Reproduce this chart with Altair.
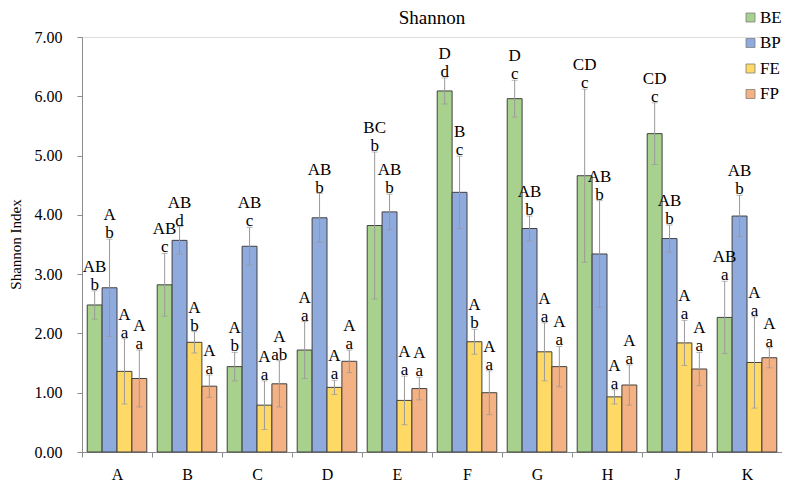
import altair as alt
import pandas as pd

title_text = "Shannon"
y_title = "Shannon Index"
categories = ["A", "B", "C", "D", "E", "F", "G", "H", "J", "K"]
series = ["BE", "BP", "FE", "FP"]

be_mean = [2.48, 2.82, 1.44, 1.72, 3.82, 6.09, 5.96, 4.66, 5.37, 2.27]
bp_mean = [2.77, 3.57, 3.47, 3.95, 4.05, 4.38, 3.77, 3.34, 3.60, 3.98]
fe_mean = [1.36, 1.85, 0.79, 1.09, 0.87, 1.86, 1.69, 0.93, 1.84, 1.51]
fp_mean = [1.24, 1.11, 1.15, 1.53, 1.07, 1.00, 1.44, 1.13, 1.40, 1.59]

be_err = [0.24, 0.53, 0.24, 0.48, 1.24, 0.22, 0.31, 1.46, 0.52, 0.61]
bp_err = [0.82, 0.23, 0.32, 0.41, 0.30, 0.61, 0.21, 0.90, 0.23, 0.35]
fe_err = [0.55, 0.18, 0.41, 0.12, 0.41, 0.21, 0.49, 0.12, 0.38, 0.77]
fp_err = [0.48, 0.19, 0.39, 0.19, 0.19, 0.37, 0.34, 0.34, 0.28, 0.17]

be_upper = ["AB", "AB", "A", "A", "BC", "D", "D", "CD", "CD", "AB"]
bp_upper = ["A", "AB", "AB", "AB", "AB", "B", "AB", "AB", "AB", "AB"]
fe_upper = ["A", "A", "A", "A", "A", "A", "A", "A", "A", "A"]
fp_upper = ["A", "A", "A", "A", "A", "A", "A", "A", "A", "A"]

be_lower = ["b", "c", "b", "a", "b", "d", "c", "c", "c", "a"]
bp_lower = ["b", "d", "c", "b", "b", "c", "b", "b", "b", "b"]
fe_lower = ["a", "b", "a", "a", "a", "b", "a", "a", "a", "a"]
fp_lower = ["a", "a", "ab", "a", "a", "a", "a", "a", "a", "a"]

colors = ["#a9d18e", "#8faadc", "#ffd966", "#f4b183"]

rows = []
groups = [
    ("BE", be_mean, be_err, be_upper, be_lower),
    ("BP", bp_mean, bp_err, bp_upper, bp_lower),
    ("FE", fe_mean, fe_err, fe_upper, fe_lower),
    ("FP", fp_mean, fp_err, fp_upper, fp_lower),
]
for s, means, errs, ups, lows in groups:
    for c, m, e, u, l in zip(categories, means, errs, ups, lows):
        rows.append(dict(cat=c, series=s, mean=m, lo=m - e, hi=m + e, up=u, low=l))
df = pd.DataFrame(rows)

FONT = "Liberation Serif"
AXIS_GRAY = "#8c8c8c"

x = alt.X(
    "cat:N",
    sort=categories,
    scale=alt.Scale(paddingInner=0, paddingOuter=0),
    axis=alt.Axis(
        title=None, labelAngle=0, tickBand="extent", grid=False,
        domainColor=AXIS_GRAY, tickColor=AXIS_GRAY, tickSize=5,
        labelFont=FONT, labelFontSize=16, labelColor="black", labelPadding=9,
    ),
)
xo = alt.XOffset("series:N", sort=series, scale=alt.Scale(paddingInner=0, paddingOuter=0.35))

yscale = alt.Scale(domain=[0, 7])

base = alt.Chart(df).encode(x=x, xOffset=xo)

bars = base.mark_bar(stroke="#404040", strokeWidth=1).encode(
    y=alt.Y(
        "mean:Q",
        scale=yscale,
        axis=alt.Axis(
            values=[0, 1, 2, 3, 4, 5, 6, 7], format=".2f", grid=False,
            title=y_title, titleFont=FONT, titleFontSize=15,
            titleFontWeight="normal", titleColor="black", titleX=-62, titleY=207,
            titleBaseline="alphabetic",
            domainColor=AXIS_GRAY, tickColor=AXIS_GRAY, tickSize=5,
            labelFont=FONT, labelFontSize=16, labelColor="black", labelPadding=15,
        ),
    ),
    color=alt.Color(
        "series:N",
        sort=series,
        scale=alt.Scale(domain=series, range=colors),
        legend=alt.Legend(
            title=None, orient="none", legendX=660, legendY=-28,
            symbolType="square", symbolSize=81, symbolStrokeColor="#7f7f7f",
            symbolStrokeWidth=0.8, symbolOpacity=1,
            labelFont=FONT, labelFontSize=17, labelColor="black",
            labelOffset=1, rowPadding=7.5, padding=0,
        ),
    ),
)

err = base.mark_rule(color="#999999", strokeWidth=1).encode(y="lo:Q", y2="hi:Q")
cap_hi = base.mark_tick(color="#999999", size=6, thickness=1).encode(y="hi:Q")
cap_lo = base.mark_tick(color="#999999", size=6, thickness=1).encode(y="lo:Q")

lab_low = base.mark_text(font=FONT, fontSize=17, baseline="alphabetic", dy=-1, color="black").encode(
    y="hi:Q", text="low:N"
)
lab_up = base.mark_text(font=FONT, fontSize=17, baseline="alphabetic", dy=-19, color="black").encode(
    y="hi:Q", text="up:N"
)

title = alt.Chart(pd.DataFrame({"t": [title_text]})).mark_text(
    font=FONT, fontSize=19, baseline="alphabetic", align="center", color="black"
).encode(text="t:N", x=alt.value(350), y=alt.value(-13))

chart = (
    alt.layer(bars, err, cap_hi, cap_lo, lab_low, lab_up, title)
    .properties(
        width=700,
        height=415,
        autosize="none",
        padding={"left": 74, "top": 29, "right": 0, "bottom": 30},
    )
    .configure_view(stroke=None)
    .configure(background="white")
)

chart.save("out.html", embed_options={"renderer": "svg", "actions": False})
